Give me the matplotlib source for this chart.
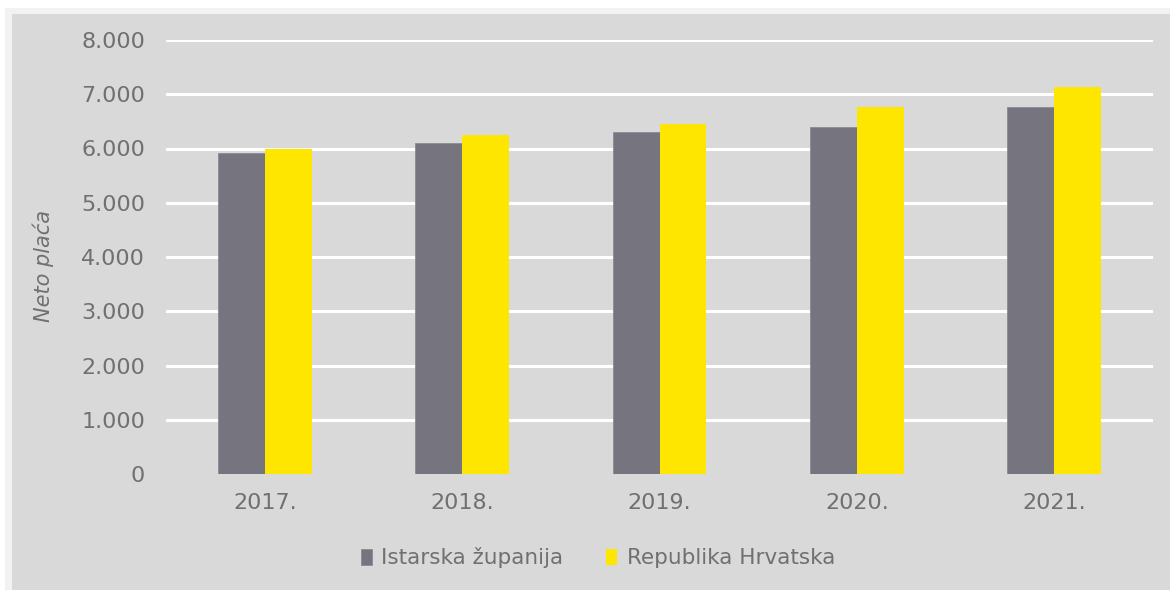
import matplotlib
matplotlib.use("Agg")
import matplotlib.pyplot as plt
from matplotlib.patches import Rectangle
import numpy as np

categories = ["2017.", "2018.", "2019.", "2020.", "2021."]
istarska = [5920, 6110, 6300, 6390, 6770]
hrvatska = [5990, 6250, 6460, 6765, 7130]
series_names = ["Istarska županija", "Republika Hrvatska"]
yticks = [0, 1000, 2000, 3000, 4000, 5000, 6000, 7000, 8000]
ytick_labels = ["0", "1.000", "2.000", "3.000", "4.000", "5.000", "6.000", "7.000", "8.000"]

W, H = 1170, 590
fig = plt.figure(figsize=(W / 100, H / 100), dpi=100)
fig.patch.set_facecolor("white")
fig.patches.append(Rectangle((5 / W, 0), 1 - 5 / W, 1 - 8 / H, transform=fig.transFigure,
                             facecolor="#f2f2f2", edgecolor="none", zorder=-10))
fig.patches.append(Rectangle((12 / W, 0), 1 - 12 / W, 1 - 14 / H, transform=fig.transFigure,
                             facecolor="#d9d9d9", edgecolor="none", zorder=-9))

ax = fig.add_axes([166 / W, 1 - 474 / H, (1153 - 166) / W, (474 - 40) / H])
ax.set_facecolor("none")

x = np.arange(len(categories))
bw = 0.238
grey = "#75747f"
yellow = "#ffe600"
txt = "#707070"
b1 = ax.bar(x - bw / 2, istarska, bw, color=grey, edgecolor="#8a8a94", linewidth=0.6, zorder=3)
b2 = ax.bar(x + bw / 2, hrvatska, bw, color=yellow, edgecolor="none", zorder=3)

ax.set_xlim(-0.5, len(categories) - 0.5)
ax.set_ylim(0, 8000)
ax.set_yticks(yticks)
ax.set_yticklabels(ytick_labels)
ax.set_xticks(x)
ax.set_xticklabels(categories)
for yv in yticks[1:]:
    ax.axhline(yv, color="white", linewidth=2.2, zorder=1)
for s in ax.spines.values():
    s.set_visible(False)
ax.tick_params(axis="both", length=0, labelsize=16, colors=txt)
ax.tick_params(axis="y", pad=15)
ax.tick_params(axis="x", pad=14)

fig.text(43 / W, 1 - 266 / H, "Neto plaća", rotation=90, ha="center", va="center",
         fontsize=15, style="italic", color=txt)

leg = fig.legend([b1, b2], series_names, loc="center", bbox_to_anchor=(598 / W, 1 - 558 / H),
                 ncol=2, frameon=False, fontsize=15.5, handlelength=0.5, handleheight=0.8,
                 handletextpad=0.45, columnspacing=2.0, labelcolor=txt)

fig.savefig("out.png", dpi=100, facecolor=fig.get_facecolor())
